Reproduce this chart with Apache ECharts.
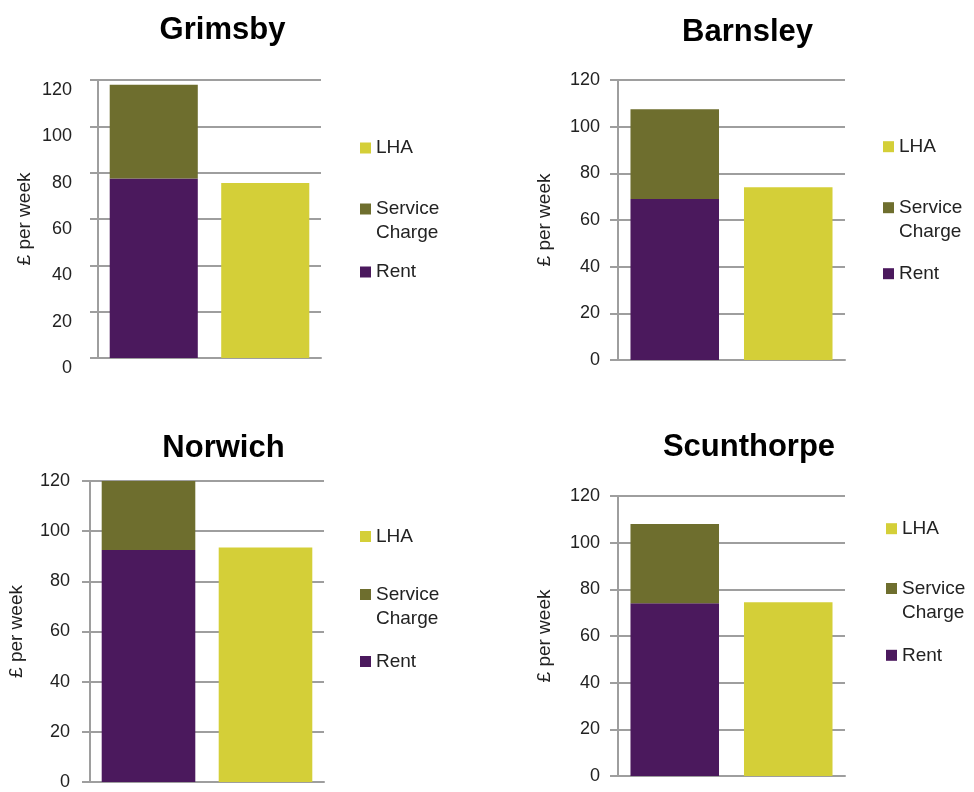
<!DOCTYPE html>
<html>
<head>
<meta charset="utf-8">
<script src="https://cdn.jsdelivr.net/npm/echarts@6/dist/echarts.min.js"></script>
<style>
html, body { margin: 0; padding: 0; background: #fff; }
#chart { width: 974px; height: 792px; }
</style>
</head>
<body>
<div id="chart"></div>
<script>
// data (£ per week)
var cities = ['Grimsby', 'Barnsley', 'Norwich', 'Scunthorpe'];
var barCategories = ['Rent + Service Charge', 'LHA'];
var rent = [77.5, 69, 92.5, 74];
var serviceCharge = [40.5, 38.5, 30, 34];
var lha = [75.5, 74, 93.5, 74.5];
var yTicks = [0, 20, 40, 60, 80, 100, 120];

var colors = { Rent: '#4b195d', 'Service Charge': '#6e6e2e', LHA: '#d4cf38' };
var font = '"Liberation Sans", Arial, sans-serif';
var gray = '#9e9e9e';

// where each small chart sits
var layout = [
	{ grid: { left: 98, top: 80, width: 223, height: 278 }, titleX: 222.5, titleY: 27, legendX: 360, legendY: [146, 210, 270], margin: 26, shiftDown: true, gap: '21%' },
	{ grid: { left: 618, top: 80, width: 227, height: 280 }, titleX: 747.5, titleY: 28.5, legendX: 883, legendY: [144.7, 208.7, 271.7], margin: 18, shiftDown: false, gap: '22%' },
	{ grid: { left: 90, top: 481, width: 234, height: 302 }, titleX: 223.5, titleY: 445, legendX: 360, legendY: [534.5, 595.5, 659.5], margin: 20, shiftDown: false, gap: '20%' },
	{ grid: { left: 618, top: 496, width: 227, height: 280 }, titleX: 749, titleY: 444, legendX: 886, legendY: [526.7, 589.5, 653.3], margin: 18, shiftDown: false, gap: '22%' }
];

var option = {
	backgroundColor: '#fff',
	animation: false,
	title: [],
	legend: [],
	grid: [],
	xAxis: [],
	yAxis: [],
	series: []
};

cities.forEach(function (city, i) {
	var L = layout[i];

	option.title.push({
		text: city,
		left: L.titleX,
		top: L.titleY - 12,
		textAlign: 'center',
		padding: 0,
		textStyle: { fontSize: 31, fontWeight: 'bold', color: '#000', fontFamily: font }
	});

	['LHA', 'Service Charge', 'Rent'].forEach(function (name, k) {
		var two = name === 'Service Charge';
		option.legend.push({
			data: [name],
			orient: 'vertical',
			left: L.legendX,
			top: two ? L.legendY[k] - 37 : L.legendY[k] - 10,
			padding: 0,
			icon: 'rect',
			itemWidth: 11,
			itemHeight: 11,
			itemStyle: { borderWidth: 0 },
			selectedMode: false,
			// empty first line so the square sits beside "Service"
			formatter: function (n) { return n === 'Service Charge' ? ' \nService\nCharge' : n; },
			textStyle: { fontSize: 19, color: '#222', fontFamily: font, lineHeight: 24 }
		});
	});

	option.grid.push(L.grid);

	option.xAxis.push({
		type: 'category',
		gridIndex: i,
		data: barCategories,
		axisLine: { lineStyle: { color: gray, width: 2 } },
		axisTick: { show: false },
		axisLabel: { show: false }
	});

	option.yAxis.push({
		type: 'value',
		gridIndex: i,
		min: yTicks[0],
		max: yTicks[yTicks.length - 1],
		interval: yTicks[1] - yTicks[0],
		name: '£ per week',
		nameLocation: 'middle',
		nameRotate: 90,
		nameGap: 64,
		nameTextStyle: { fontSize: 19, color: '#222', fontFamily: font },
		axisLine: { show: true, lineStyle: { color: gray, width: 2 } },
		axisTick: { show: true, length: 8, lineStyle: { color: gray, width: 2 } },
		splitLine: { lineStyle: { color: gray, width: 2 } },
		axisLabel: {
			fontSize: 18,
			color: '#222',
			fontFamily: font,
			margin: L.margin,
			verticalAlign: L.shiftDown ? 'top' : 'middle',
			lineHeight: 20
		}
	});

	var base = { type: 'bar', xAxisIndex: i, yAxisIndex: i, stack: 'c' + i, barCategoryGap: L.gap };
	option.series.push(Object.assign({}, base, {
		name: 'Rent', data: [rent[i], '-'], itemStyle: { color: colors.Rent }
	}));
	option.series.push(Object.assign({}, base, {
		name: 'Service Charge', data: [serviceCharge[i], '-'], itemStyle: { color: colors['Service Charge'] }
	}));
	option.series.push(Object.assign({}, base, {
		name: 'LHA', data: ['-', lha[i]], itemStyle: { color: colors.LHA }
	}));
});

var chart = echarts.init(document.getElementById('chart'));
chart.setOption(option);
</script>
</body>
</html>
